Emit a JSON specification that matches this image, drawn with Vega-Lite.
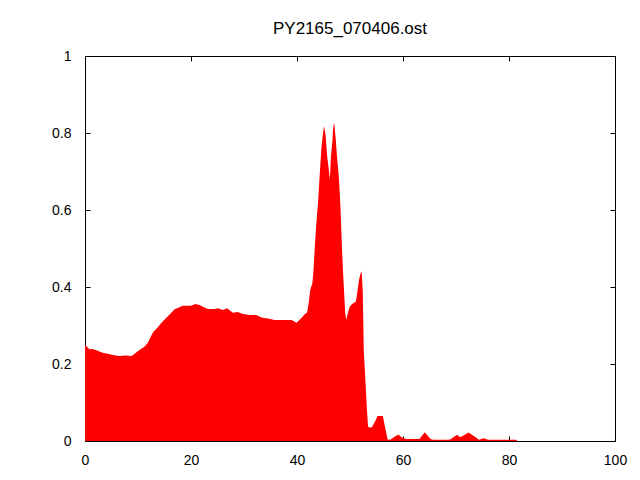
{
  "$schema": "https://vega.github.io/schema/vega-lite/v6.json",
  "width": 530,
  "height": 385,
  "autosize": {"type": "none"},
  "padding": {"left": 85, "top": 56, "right": 25, "bottom": 39},
  "background": "white",
  "title": {"text": "PY2165_070406.ost", "font": "Liberation Sans", "fontSize": 17, "fontWeight": "normal", "color": "black", "anchor": "middle", "offset": 11},
  "config": {
    "view": {"stroke": "black", "strokeWidth": 1},
    "axis": {"domain": false, "grid": false, "tickColor": "black", "tickSize": -5, "tickWidth": 1, "labelFont": "Liberation Sans", "labelFontSize": 14, "labelColor": "black", "title": null, "labelFlush": false}
  },
  "data": {"values": [
    {"x": 0, "y": 0.249}, {"x": 0.4, "y": 0.245}, {"x": 0.8, "y": 0.238}, {"x": 1.4, "y": 0.239},
    {"x": 2.3, "y": 0.235}, {"x": 3.3, "y": 0.229}, {"x": 4.5, "y": 0.226}, {"x": 5.5, "y": 0.223},
    {"x": 6.4, "y": 0.221}, {"x": 7.7, "y": 0.222}, {"x": 8.8, "y": 0.221}, {"x": 9.6, "y": 0.229},
    {"x": 10.2, "y": 0.236}, {"x": 11.2, "y": 0.245}, {"x": 11.8, "y": 0.254}, {"x": 12.4, "y": 0.271},
    {"x": 12.9, "y": 0.284}, {"x": 13.7, "y": 0.295}, {"x": 14.6, "y": 0.31}, {"x": 15.4, "y": 0.321},
    {"x": 16.2, "y": 0.332}, {"x": 16.9, "y": 0.342}, {"x": 17.7, "y": 0.347}, {"x": 18.4, "y": 0.351},
    {"x": 20.0, "y": 0.351}, {"x": 20.8, "y": 0.356}, {"x": 21.6, "y": 0.353}, {"x": 22.5, "y": 0.347},
    {"x": 23.2, "y": 0.343}, {"x": 24.4, "y": 0.343}, {"x": 25.1, "y": 0.345}, {"x": 26.0, "y": 0.34},
    {"x": 26.8, "y": 0.345}, {"x": 27.9, "y": 0.333}, {"x": 28.8, "y": 0.335}, {"x": 29.8, "y": 0.33},
    {"x": 31.1, "y": 0.327}, {"x": 32.3, "y": 0.327}, {"x": 33.3, "y": 0.321}, {"x": 34.5, "y": 0.318},
    {"x": 35.8, "y": 0.314}, {"x": 37.4, "y": 0.314}, {"x": 39.0, "y": 0.314}, {"x": 39.9, "y": 0.307},
    {"x": 40.5, "y": 0.315}, {"x": 41.0, "y": 0.322}, {"x": 41.5, "y": 0.33}, {"x": 41.9, "y": 0.334},
    {"x": 42.2, "y": 0.358}, {"x": 42.5, "y": 0.392}, {"x": 42.9, "y": 0.41}, {"x": 43.1, "y": 0.44},
    {"x": 43.4, "y": 0.513}, {"x": 43.7, "y": 0.574}, {"x": 44.0, "y": 0.626}, {"x": 44.3, "y": 0.695},
    {"x": 44.6, "y": 0.76}, {"x": 44.9, "y": 0.799}, {"x": 45.1, "y": 0.818}, {"x": 45.4, "y": 0.795},
    {"x": 45.7, "y": 0.738}, {"x": 46.0, "y": 0.706}, {"x": 46.2, "y": 0.678}, {"x": 46.4, "y": 0.738},
    {"x": 46.7, "y": 0.782}, {"x": 46.8, "y": 0.812}, {"x": 47.0, "y": 0.827}, {"x": 47.3, "y": 0.786},
    {"x": 47.6, "y": 0.73}, {"x": 47.9, "y": 0.686}, {"x": 48.2, "y": 0.609}, {"x": 48.5, "y": 0.496},
    {"x": 48.7, "y": 0.436}, {"x": 49.1, "y": 0.332}, {"x": 49.3, "y": 0.314}, {"x": 49.6, "y": 0.333},
    {"x": 49.9, "y": 0.347}, {"x": 50.2, "y": 0.353}, {"x": 50.6, "y": 0.358}, {"x": 51.1, "y": 0.362},
    {"x": 51.4, "y": 0.388}, {"x": 51.7, "y": 0.418}, {"x": 52.0, "y": 0.436}, {"x": 52.2, "y": 0.44},
    {"x": 52.4, "y": 0.392}, {"x": 52.6, "y": 0.236}, {"x": 52.9, "y": 0.158}, {"x": 53.2, "y": 0.081},
    {"x": 53.4, "y": 0.037}, {"x": 53.8, "y": 0.035}, {"x": 54.1, "y": 0.035}, {"x": 54.7, "y": 0.05},
    {"x": 55.2, "y": 0.065}, {"x": 56.2, "y": 0.065}, {"x": 56.6, "y": 0.037}, {"x": 57.1, "y": 0.004},
    {"x": 57.6, "y": 0.003}, {"x": 58.2, "y": 0.009}, {"x": 59.1, "y": 0.017}, {"x": 60.0, "y": 0.007},
    {"x": 60.7, "y": 0.005}, {"x": 63.1, "y": 0.005}, {"x": 64.1, "y": 0.023}, {"x": 65.2, "y": 0.005},
    {"x": 65.7, "y": 0.003}, {"x": 68.3, "y": 0.003}, {"x": 68.9, "y": 0.004}, {"x": 70.2, "y": 0.016},
    {"x": 70.8, "y": 0.01}, {"x": 72.4, "y": 0.022}, {"x": 73.7, "y": 0.01}, {"x": 74.3, "y": 0.003},
    {"x": 75.2, "y": 0.007}, {"x": 76.1, "y": 0.003}, {"x": 81.3, "y": 0.003}, {"x": 81.6, "y": 0}
  ]},
  "layer": [
    {
      "mark": {"type": "area", "color": "#ff0000", "interpolate": "linear"},
      "encoding": {
        "x": {"field": "x", "type": "quantitative", "scale": {"domain": [0, 100], "nice": false, "zero": false},
              "axis": {"orient": "bottom", "values": [0, 20, 40, 60, 80, 100], "labelPadding": 17}},
        "y": {"field": "y", "type": "quantitative", "scale": {"domain": [0, 1], "nice": false},
              "axis": {"orient": "left", "values": [0, 0.2, 0.4, 0.6, 0.8, 1], "labelPadding": 19, "labelExpr": "format(datum.value, '~g')"}}
      }
    },
    {
      "mark": {"type": "area", "opacity": 0},
      "encoding": {
        "x": {"field": "x", "type": "quantitative", "axis": {"orient": "top", "values": [0, 20, 40, 60, 80, 100], "labels": false}},
        "y": {"field": "y", "type": "quantitative", "axis": {"orient": "right", "values": [0, 0.2, 0.4, 0.6, 0.8, 1], "labels": false}}
      }
    }
  ],
  "resolve": {"axis": {"x": "independent", "y": "independent"}}
}
